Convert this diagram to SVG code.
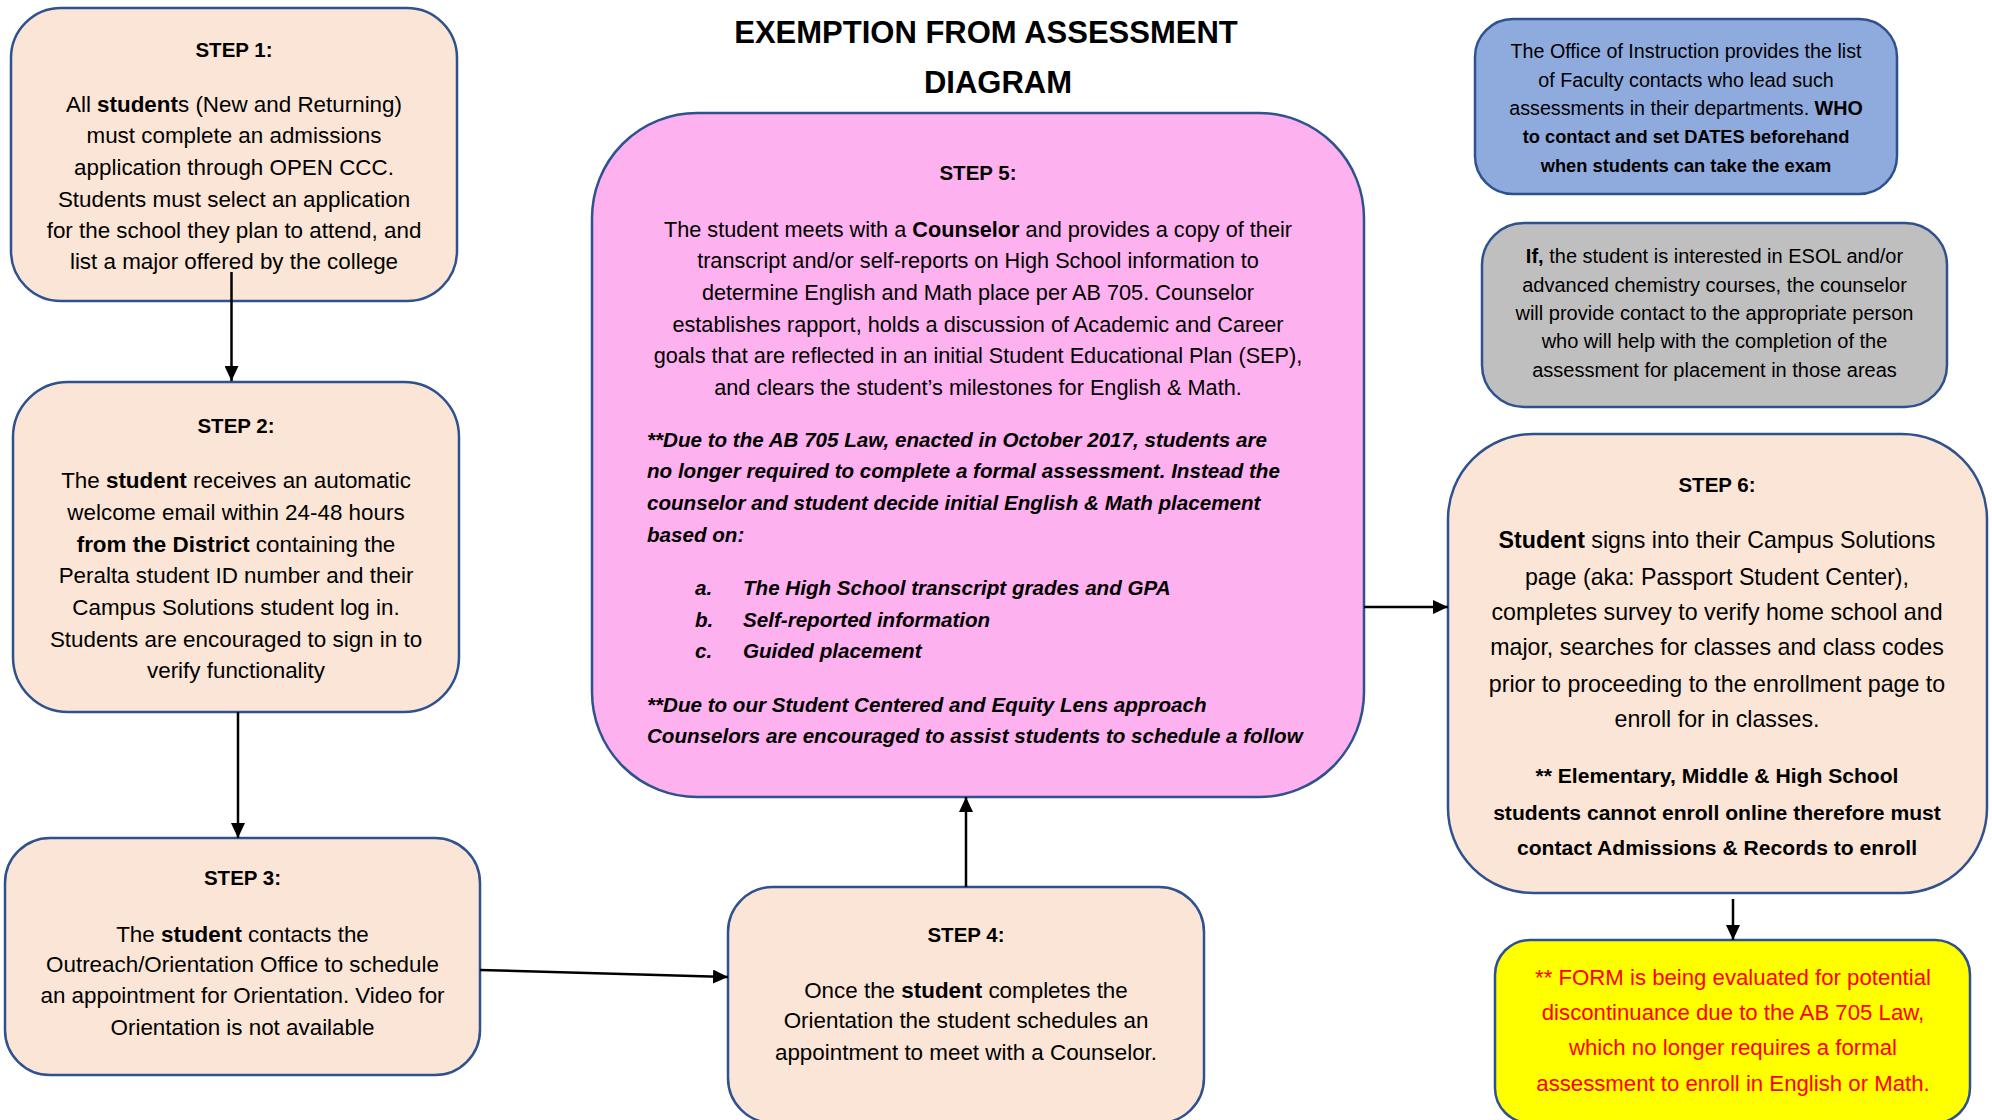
<svg xmlns="http://www.w3.org/2000/svg" width="1992" height="1120" viewBox="0 0 1992 1120">
<style>
.box{stroke:#2F528F;stroke-width:2.5}
.peach{fill:#FBE5D6}
.pink{fill:#FDB1EE}
.blue{fill:#8FAADC}
.gray{fill:#BFBFBF}
.yellow{fill:#FFFF00}
text{font-family:"Liberation Sans",Arial,sans-serif;fill:#000}
.c{text-anchor:middle}
.h{font-weight:bold;font-size:20.5px}
.s{font-size:22.4px}
.s5{font-size:21.7px}
.bi{font-size:20.6px;font-weight:bold;font-style:italic}
.s6{font-size:23.2px}
.s6b{font-size:21.1px;font-weight:bold}
.sb{font-size:19.7px}
.sbb{font-size:18.3px;font-weight:bold}
.sg{font-size:20px}
.sy{font-size:22.2px;fill:#FF0000}
.b{font-weight:bold}
.title{font-size:31px;font-weight:bold}
.conn{stroke:#000;stroke-width:2.5;fill:none;marker-end:url(#arr)}
</style>
<defs>
<marker id="arr" markerUnits="userSpaceOnUse" markerWidth="16" markerHeight="14" refX="15" refY="7" orient="auto">
<path d="M0,0 L15,7 L0,14 z" fill="#000"/>
</marker>
</defs>
<rect width="1992" height="1120" fill="#fff"/>

<g id="title">
<text class="title c" x="986" y="43">EXEMPTION FROM ASSESSMENT</text>
<text class="title c" x="998" y="93">DIAGRAM</text>
</g>

<g id="step1">
<rect class="box peach" x="11" y="8" width="446" height="293" rx="50"/>
<text class="h c" x="234" y="57">STEP 1:</text>
<text class="s c" x="234" y="112">All <tspan class="b">student</tspan>s (New and Returning)</text>
<text class="s c" x="234" y="143">must complete an admissions</text>
<text class="s c" x="234" y="175">application through OPEN CCC.</text>
<text class="s c" x="234" y="207">Students must select an application</text>
<text class="s c" x="234" y="238">for the school they plan to attend, and</text>
<text class="s c" x="234" y="269">list a major offered by the college</text>
</g>

<g id="step2">
<rect class="box peach" x="13" y="382" width="446" height="330" rx="55"/>
<text class="h c" x="236" y="433">STEP 2:</text>
<text class="s c" x="236" y="488">The <tspan class="b">student</tspan> receives an automatic</text>
<text class="s c" x="236" y="520">welcome email within 24-48 hours</text>
<text class="s c" x="236" y="552"><tspan class="b">from the District</tspan> containing the</text>
<text class="s c" x="236" y="583">Peralta student ID number and their</text>
<text class="s c" x="236" y="615">Campus Solutions student log in.</text>
<text class="s c" x="236" y="647">Students are encouraged to sign in to</text>
<text class="s c" x="236" y="678">verify functionality</text>
</g>

<g id="step3">
<rect class="box peach" x="5" y="838" width="475" height="237" rx="45"/>
<text class="h c" x="242.5" y="885">STEP 3:</text>
<text class="s c" x="242.5" y="942">The <tspan class="b">student</tspan> contacts the</text>
<text class="s c" x="242.5" y="972">Outreach/Orientation Office to schedule</text>
<text class="s c" x="242.5" y="1003">an appointment for Orientation. Video for</text>
<text class="s c" x="242.5" y="1035">Orientation is not available</text>
</g>

<g id="step4">
<rect class="box peach" x="728" y="887" width="476" height="236" rx="45"/>
<text class="h c" x="966" y="942">STEP 4:</text>
<text class="s c" x="966" y="998">Once the <tspan class="b">student</tspan> completes the</text>
<text class="s c" x="966" y="1028">Orientation the student schedules an</text>
<text class="s c" x="966" y="1060">appointment to meet with a Counselor.</text>
</g>

<g id="step5">
<rect class="box pink" x="592" y="113" width="772" height="684" rx="105"/>
<text class="h c" x="978" y="180">STEP 5:</text>
<text class="s5 c" x="978" y="237">The student meets with a <tspan class="b">Counselor</tspan> and provides a copy of their</text>
<text class="s5 c" x="978" y="268">transcript and/or self-reports on High School information to</text>
<text class="s5 c" x="978" y="300">determine English and Math place per AB 705. Counselor</text>
<text class="s5 c" x="978" y="332">establishes rapport, holds a discussion of Academic and Career</text>
<text class="s5 c" x="978" y="363">goals that are reflected in an initial Student Educational Plan (SEP),</text>
<text class="s5 c" x="978" y="395">and clears the student’s milestones for English &amp; Math.</text>
<text class="bi" x="647" y="447">**Due to the AB 705 Law, enacted in October 2017, students are</text>
<text class="bi" x="647" y="478">no longer required to complete a formal assessment. Instead the</text>
<text class="bi" x="647" y="510">counselor and student decide initial English &amp; Math placement</text>
<text class="bi" x="647" y="542">based on:</text>
<text class="bi" x="695" y="595">a.</text>
<text class="bi" x="743" y="595">The High School transcript grades and GPA</text>
<text class="bi" x="695" y="627">b.</text>
<text class="bi" x="743" y="627">Self-reported information</text>
<text class="bi" x="695" y="658">c.</text>
<text class="bi" x="743" y="658">Guided placement</text>
<text class="bi" x="647" y="712">**Due to our Student Centered and Equity Lens approach</text>
<text class="bi" x="647" y="743">Counselors are encouraged to assist students to schedule a follow</text>
</g>

<g id="step6">
<rect class="box peach" x="1448" y="434" width="539" height="459" rx="85"/>
<text class="h c" x="1717" y="492">STEP 6:</text>
<text class="s6 c" x="1717" y="548"><tspan class="b">Student</tspan> signs into their Campus Solutions</text>
<text class="s6 c" x="1717" y="585">page (aka: Passport Student Center),</text>
<text class="s6 c" x="1717" y="620">completes survey to verify home school and</text>
<text class="s6 c" x="1717" y="655">major, searches for classes and class codes</text>
<text class="s6 c" x="1717" y="692">prior to proceeding to the enrollment page to</text>
<text class="s6 c" x="1717" y="727">enroll for in classes.</text>
<text class="s6b c" x="1717" y="783">** Elementary, Middle &amp; High School</text>
<text class="s6b c" x="1717" y="820">students cannot enroll online therefore must</text>
<text class="s6b c" x="1717" y="855">contact Admissions &amp; Records to enroll</text>
</g>

<g id="office-note">
<rect class="box blue" x="1475" y="19" width="422" height="175" rx="38"/>
<text class="sb c" x="1686" y="58">The Office of Instruction provides the list</text>
<text class="sb c" x="1686" y="87">of Faculty contacts who lead such</text>
<text class="sb c" x="1686" y="115">assessments in their departments. <tspan class="b">WHO</tspan></text>
<text class="sbb c" x="1686" y="143">to contact and set DATES beforehand</text>
<text class="sbb c" x="1686" y="172">when students can take the exam</text>
</g>

<g id="esol-note">
<rect class="box gray" x="1482" y="223" width="465" height="184" rx="42"/>
<text class="sg c" x="1714.5" y="263"><tspan class="b">If,</tspan> the student is interested in ESOL and/or</text>
<text class="sg c" x="1714.5" y="292">advanced chemistry courses, the counselor</text>
<text class="sg c" x="1714.5" y="320">will provide contact to the appropriate person</text>
<text class="sg c" x="1714.5" y="348">who will help with the completion of the</text>
<text class="sg c" x="1714.5" y="377">assessment for placement in those areas</text>
</g>

<g id="form-note">
<rect class="box yellow" x="1495" y="940" width="475" height="183" rx="35"/>
<text class="sy c" x="1733" y="985">** FORM is being evaluated for potential</text>
<text class="sy c" x="1733" y="1020">discontinuance due to the AB 705 Law,</text>
<text class="sy c" x="1733" y="1055">which no longer requires a formal</text>
<text class="sy c" x="1733" y="1091">assessment to enroll in English or Math.</text>
</g>

<g id="connectors">
<line class="conn" x1="231.5" y1="272" x2="231.5" y2="381"/>
<line class="conn" x1="238" y1="712" x2="238" y2="838"/>
<line class="conn" x1="480" y1="970" x2="728" y2="977"/>
<line class="conn" x1="966" y1="887" x2="966" y2="797"/>
<line class="conn" x1="1364" y1="607" x2="1448" y2="607"/>
<line class="conn" x1="1733" y1="899" x2="1733" y2="940"/>
</g>
</svg>
